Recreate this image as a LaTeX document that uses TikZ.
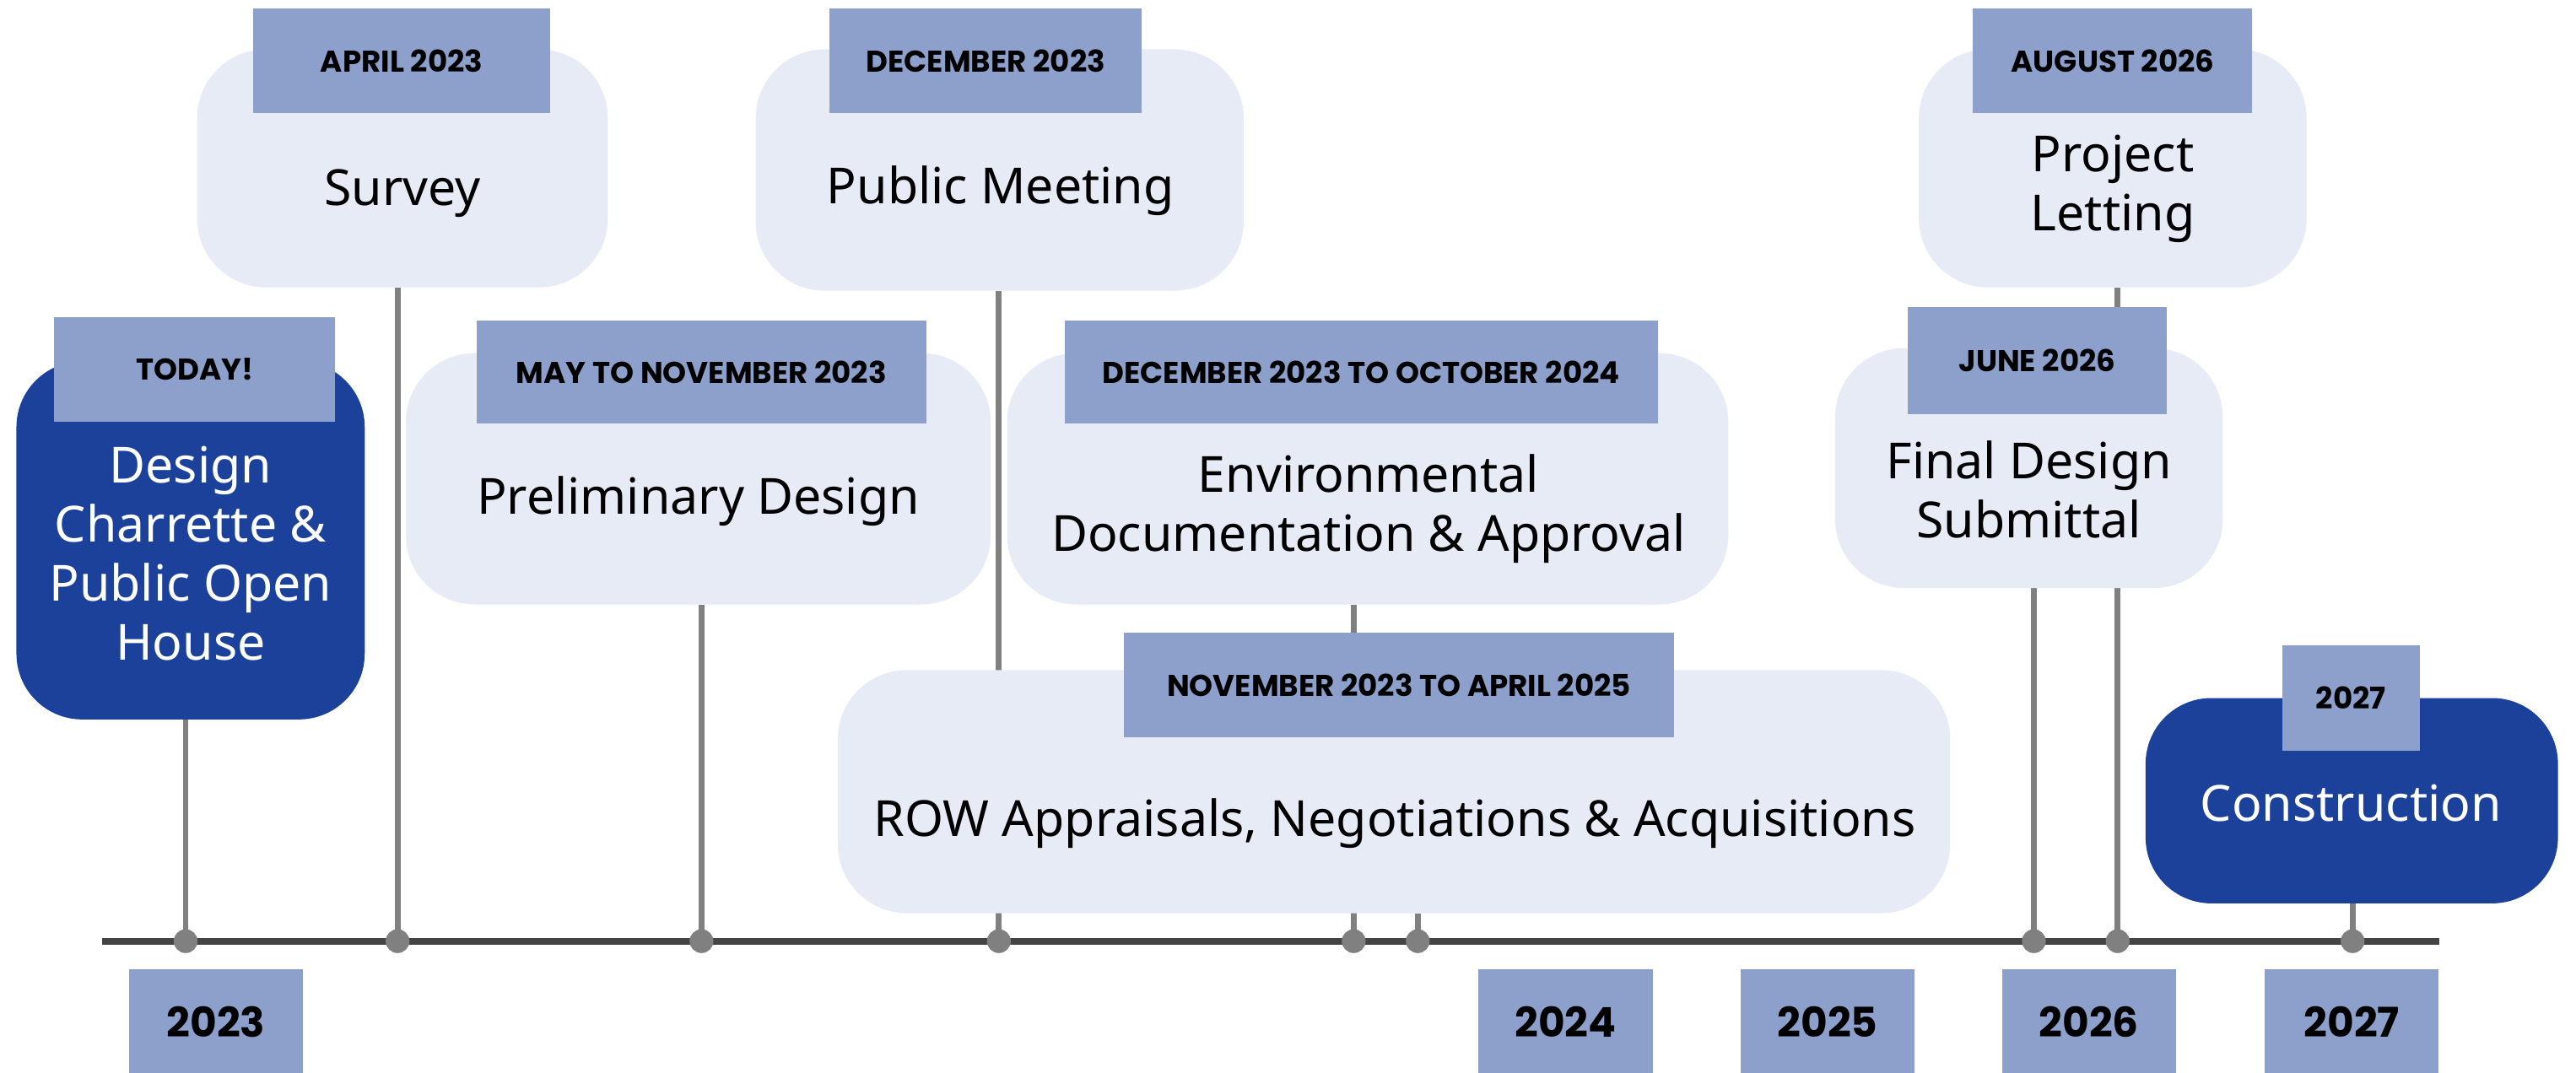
\documentclass[tikz,border=0pt]{standalone}
\usepackage{fontspec}
\setmainfont{Noto Sans}
\newfontfamily\labfont{Poppins}
\definecolor{dkblue}{HTML}{1C419B}
\definecolor{ltbox}{HTML}{E7EBF5}
\definecolor{labblue}{HTML}{8DA0CC}
\definecolor{stemgray}{HTML}{808080}
\definecolor{linegray}{HTML}{444444}
\pgfdeclarelayer{bg}
\pgfsetlayers{bg,main}
\tikzset{
  darkbox/.style={fill=dkblue, rounded corners=40, inner sep=0},
  lightbox/.style={fill=ltbox, rounded corners=42, inner sep=0},
  datelab/.style={fill=labblue, inner sep=0, text=black, font=\labfont\bfseries\fontsize{18.3}{18}\selectfont},
  yearlab/.style={fill=labblue, inner sep=0, minimum width=106, minimum height=64, text=black, font=\labfont\bfseries\fontsize{25}{25}\selectfont},
  maintxt/.style={font=\fontsize{30.3}{36}\selectfont, align=center, inner sep=0, text=black},
  whitetxt/.style={maintxt, text=white},
  stem/.style={draw=stemgray, line width=3.5},
  tline/.style={draw=linegray, line width=4},
  tdot/.style={circle, fill=stemgray, minimum size=14.5, inner sep=0}
}
\begin{document}
\begin{tikzpicture}[x=1pt,y=-1pt]
\useasboundingbox (0,0) rectangle (1568,653);

% timeline
\coordinate (tlL) at (62,573);
\coordinate (tlR) at (1485,573);

% boxes
\node[darkbox, minimum width=212, minimum height=218] (dbox) at (116,329) {};
\node[lightbox, minimum width=250, minimum height=145] (sbox) at (245,102.5) {};
\node[lightbox, minimum width=297, minimum height=147] (pmbox) at (608.5,103.5) {};
\node[lightbox, minimum width=356, minimum height=153] (pdbox) at (425,291.5) {};
\node[lightbox, minimum width=439, minimum height=153] (envbox) at (832.5,291.5) {};
\node[lightbox, minimum width=677, minimum height=148] (rowbox) at (848.5,482) {};
\node[lightbox, minimum width=236, minimum height=145] (plbox) at (1286,102.5) {};
\node[lightbox, minimum width=236, minimum height=146] (fdbox) at (1235,285) {};
\node[darkbox, minimum width=251, minimum height=125] (cbox) at (1431.5,487.5) {};

% texts
\node[whitetxt] (dtxt) at (116,337) {Design\\Charrette \&\\Public Open\\House};
\node[maintxt, anchor=base] (stxt) at (245,125) {Survey};
\node[maintxt, anchor=base] (pmtxt) at (609,124) {Public Meeting};
\node[maintxt, anchor=base] (pdtxt) at (425,313) {Preliminary Design};
\node[maintxt] (envtxt) at (833,310) {Environmental\\Documentation \& Approval};
\node[maintxt, anchor=base] (rowtxt) at (849,509) {ROW Appraisals, Negotiations \& Acquisitions};
\node[maintxt] (pltxt) at (1286,115) {Project\\Letting};
\node[maintxt] (fdtxt) at (1235,298) {Final Design\\Submittal};
\node[whitetxt, anchor=base] (ctxt) at (1431,500) {Construction};

% date labels
\node[datelab, minimum width=171, minimum height=64] (dlab) at (118.5,225) {TODAY!};
\node[datelab, minimum width=181, minimum height=64] (slab) at (244.5,37) {APRIL 2023};
\node[datelab, minimum width=190, minimum height=64] (pmlab) at (600,37) {DECEMBER 2023};
\node[datelab, minimum width=274, minimum height=63] (pdlab) at (427,226.5) {MAY TO NOVEMBER 2023};
\node[datelab, minimum width=361, minimum height=63] (envlab) at (828.5,226.5) {DECEMBER 2023 TO OCTOBER 2024};
\node[datelab, minimum width=335, minimum height=64] (rowlab) at (851.5,417) {NOVEMBER 2023 TO APRIL 2025};
\node[datelab, minimum width=170, minimum height=64] (pllab) at (1286,37) {AUGUST 2026};
\node[datelab, minimum width=158, minimum height=65] (fdlab) at (1240,219.5) {JUNE 2026};
\node[datelab, minimum width=84, minimum height=64] (clab) at (1431,425) {2027};

% year labels
\node[yearlab] (y23) at (131.5,622) {2023};
\node[yearlab] (y24) at (953,622) {2024};
\node[yearlab] (y25) at (1112.5,622) {2025};
\node[yearlab] (y26) at (1271.5,622) {2026};
\node[yearlab] (y27) at (1431.5,622) {2027};

% dots
\node[tdot] (d1) at (113,573) {};
\node[tdot] (d2) at (242,573) {};
\node[tdot] (d3) at (427,573) {};
\node[tdot] (d4) at (608,573) {};
\node[tdot] (d5) at (824,573) {};
\node[tdot] (d6) at (863,573) {};
\node[tdot] (d7) at (1238,573) {};
\node[tdot] (d8) at (1289,573) {};
\node[tdot] (d9) at (1432,573) {};

\begin{pgfonlayer}{bg}
\draw[tline] (tlL) -- (tlR);
\draw[stem] (d1.center) -- (d1 |- dbox.south);
\draw[stem] (d2.center) -- (d2 |- sbox.south);
\draw[stem] (d3.center) -- (d3 |- pdbox.south);
\draw[stem] (d4.center) -- (d4 |- pmbox.south);
\draw[stem] (d5.center) -- (d5 |- envbox.south);
\draw[stem] (d6.center) -- (d6 |- rowbox.south);
\draw[stem] (d7.center) -- (d7 |- fdbox.south);
\draw[stem] (d8.center) -- (d8 |- plbox.south);
\draw[stem] (d9.center) -- (d9 |- cbox.south);
\end{pgfonlayer}
\end{tikzpicture}
\end{document}
